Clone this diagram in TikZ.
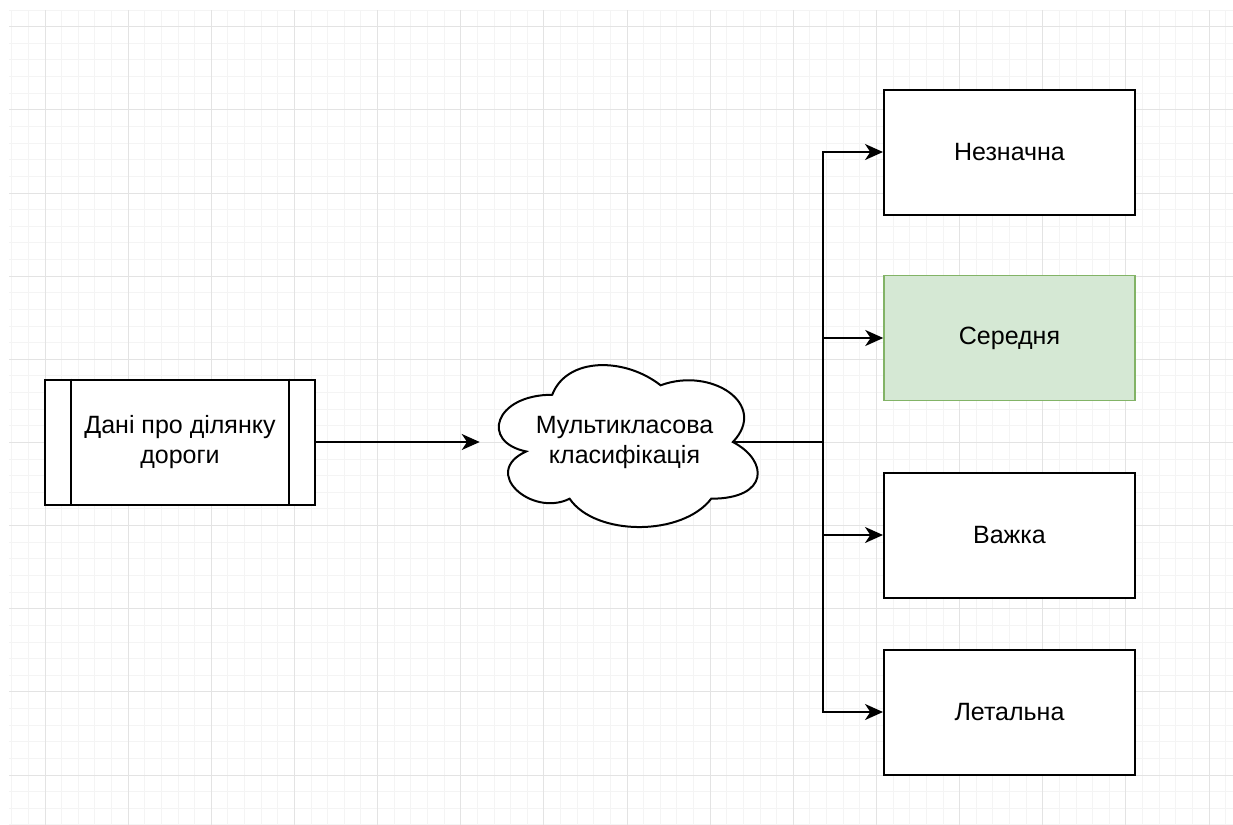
\documentclass[tikz,border=0pt]{standalone}
\usepackage{fontspec}
\setmainfont{Liberation Sans}
\usetikzlibrary{arrows.meta,positioning,calc}
\definecolor{gridmin}{HTML}{F4F4F4}
\definecolor{gridmaj}{HTML}{E3E3E3}
\definecolor{okfill}{HTML}{D5E8D4}
\definecolor{okline}{HTML}{82B366}
\newcommand{\boxfont}{\fontsize{18.75pt}{22.5pt}\selectfont}
\tikzset{
  procbox/.style  = {draw=black, line width=1.5pt, fill=white, align=center,
                     minimum width=202.5pt, minimum height=93.75pt, inner sep=0pt,
                     font=\boxfont},
  cloudbox/.style = {minimum width=216.75pt, minimum height=141.75pt, align=center,
                     inner sep=0pt, font=\boxfont},
  outbox/.style   = {draw=black, line width=1.5pt, fill=white, align=center,
                     minimum width=188.25pt, minimum height=93.75pt, inner sep=0pt,
                     font=\boxfont},
  okbox/.style    = {outbox, draw=okline, fill=okfill, line width=1.1pt},
  ar/.style       = {-{Stealth[length=13.5pt, width=12pt, inset=4pt]}, line width=1.6pt},
  gmin/.style     = {gridmin, line width=0.75pt},
  gmaj/.style     = {gridmaj, line width=0.75pt},
}
\begin{document}
\begin{tikzpicture}[x=0.75pt, y=-0.75pt]
  \useasboundingbox (0,0) rectangle (1233,825);
  \fill[white] (0,0) rectangle (1233,825);
  % grid
  \begin{scope}
    \clip (9,10) rectangle (1233,825);
    \foreach \i in {-2,...,71}
      \draw[gmin] ({45+16.63*\i},10) -- ({45+16.63*\i},825);
    \foreach \j in {-1,...,48}
      \draw[gmin] (9,{26.7+16.63*\j}) -- (1233,{26.7+16.63*\j});
    \foreach \i in {0,...,14}
      \draw[gmaj] ({45+83.15*\i},10) -- ({45+83.15*\i},825);
    \foreach \j in {0,...,9}
      \draw[gmaj] (9,{26.7+83.15*\j}) -- (1233,{26.7+83.15*\j});
  \end{scope}

  % input
  \node[procbox] (src) at (180,442) {Дані про ділянку\\дороги};
  \draw[line width=1.5pt] ($(src.north west)+(20.25pt,0)$) -- ($(src.south west)+(20.25pt,0)$);
  \draw[line width=1.5pt] ($(src.north east)+(-20.25pt,0)$) -- ($(src.south east)+(-20.25pt,0)$);

  % cloud
  \coordinate (clsnw) at (480,347.5);
  \begin{scope}[shift={(clsnw)}, x=216.75pt, y=-141.75pt]
    \draw[line width=1.5pt, fill=white]
      (0.25,0.25) .. controls (0.05,0.25) and (0,0.5) .. (0.16,0.55)
      .. controls (0,0.66) and (0.18,0.9) .. (0.31,0.8)
      .. controls (0.4,1) and (0.7,1) .. (0.8,0.8)
      .. controls (1,0.8) and (1,0.6) .. (0.875,0.5)
      .. controls (1,0.3) and (0.8,0.1) .. (0.625,0.2)
      .. controls (0.5,0.05) and (0.3,0.05) .. (0.25,0.25) -- cycle;
    \coordinate (clsr) at (0.875,0.5);
  \end{scope}
  \node[cloudbox] (cls) at (624.5,442) {Мультикласова\\класифікація};

  % classes
  \node[outbox] (n1) at (1009.5,152) {Незначна};
  \node[okbox]  (n2) at (1009.5,338) {Середня};
  \node[outbox] (n3) at (1009.5,535) {Важка};
  \node[outbox] (n4) at (1009.5,712) {Летальна};

  \coordinate (fork) at (823,442);
  \draw[ar] (src) -- (cls);
  \foreach \t in {n1,n2,n3,n4}
    \draw[ar] (clsr) -- (fork) |- (\t);
\end{tikzpicture}
\end{document}
